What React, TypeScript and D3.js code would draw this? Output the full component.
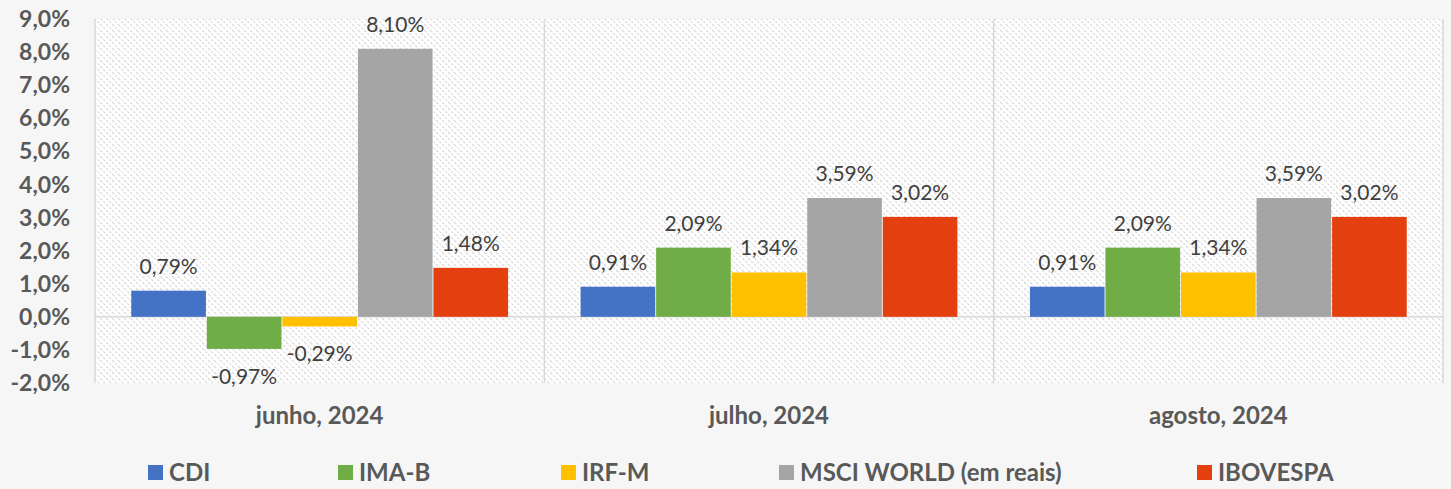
import * as d3 from 'd3'
import { useEffect, useRef, type ReactElement } from 'react'

const months = ['junho, 2024', 'julho, 2024', 'agosto, 2024']
const seriesNames = ['CDI', 'IMA-B', 'IRF-M', 'MSCI WORLD (em reais)', 'IBOVESPA']
const seriesColors = ['#4472c4', '#70ad47', '#ffc000', '#a5a5a5', '#e4400f']
const cdi = [0.79, 0.91, 0.91]
const imaB = [-0.97, 2.09, 2.09]
const irfM = [-0.29, 1.34, 1.34]
const msci = [8.1, 3.59, 3.59]
const ibovespa = [1.48, 3.02, 3.02]
const yTicks = [-2, -1, 0, 1, 2, 3, 4, 5, 6, 7, 8, 9]
const legendX = [148, 338, 561, 779, 1197]

const width = 1451
const height = 489
const margin = { top: 19, right: 8, bottom: 106, left: 95 }

const fmt = (v: number, digits: number) => v.toFixed(digits).replace('.', ',') + '%'

export default function App(): ReactElement {
  const svgRef = useRef<SVGSVGElement>(null)

  useEffect(() => {
    const svgEl = svgRef.current
    if (!svgEl) return
    const svg = d3.select(svgEl)
    svg.selectAll('*').remove()

    const values = [cdi, imaB, irfM, msci, ibovespa]
    const innerW = width - margin.left - margin.right
    const innerH = height - margin.top - margin.bottom

    const x0 = d3.scaleBand<string>().domain(months).range([0, innerW]).paddingInner(0).paddingOuter(0)
    const x1 = d3
      .scaleBand<string>()
      .domain(seriesNames)
      .range([0, x0.bandwidth()])
      .paddingInner(0.012)
      .paddingOuter(0.48)
    const y = d3.scaleLinear().domain([-2, 9]).range([innerH, 0])

    svg.append('rect').attr('width', width).attr('height', height).attr('fill', '#f6f6f6')

    const defs = svg.append('defs')
    const pat = defs
      .append('pattern')
      .attr('id', 'hatch')
      .attr('patternUnits', 'userSpaceOnUse')
      .attr('width', 6)
      .attr('height', 6)
    pat.append('rect').attr('width', 6).attr('height', 6).attr('fill', '#ffffff')
    pat
      .append('path')
      .attr('d', 'M0,0 L6,6 M-3,3 L0,6 M3,-3 L9,3')
      .attr('stroke', '#d6d6d6')
      .attr('stroke-width', 1.2)
      .attr('stroke-dasharray', '2,1.5')

    const root = svg.append('g').attr('transform', `translate(${margin.left},${margin.top})`)

    root.append('rect').attr('width', innerW).attr('height', innerH).attr('fill', 'url(#hatch)')

    // separators between categories + borders
    const seps = [0, ...months.map((m) => (x0(m) ?? 0) + x0.bandwidth())]
    root
      .selectAll('line.sep')
      .data(seps)
      .join('line')
      .attr('x1', (d) => d)
      .attr('x2', (d) => d)
      .attr('y1', 0)
      .attr('y2', innerH)
      .attr('stroke', '#d9d9d9')
      .attr('stroke-width', 1.5)

    root
      .append('line')
      .attr('x1', 0)
      .attr('x2', innerW)
      .attr('y1', y(0))
      .attr('y2', y(0))
      .attr('stroke', '#d9d9d9')
      .attr('stroke-width', 1.5)

    // y tick labels
    root
      .selectAll('text.ytick')
      .data(yTicks)
      .join('text')
      .attr('x', -25)
      .attr('y', (d) => y(d))
      .attr('dy', '0.35em')
      .attr('text-anchor', 'end')
      .attr('font-family', 'Lato, sans-serif')
      .attr('font-weight', 700)
      .attr('font-size', 23)
      .attr('fill', '#595959')
      .text((d) => fmt(d, 1))

    // bars
    seriesNames.forEach((name, si) => {
      const g = root.append('g')
      months.forEach((m, mi) => {
        const v = values[si][mi]
        const bx = (x0(m) ?? 0) + (x1(name) ?? 0)
        g.append('rect')
          .attr('x', bx)
          .attr('y', y(Math.max(0, v)))
          .attr('width', x1.bandwidth())
          .attr('height', Math.abs(y(v) - y(0)))
          .attr('fill', seriesColors[si])
        g.append('text')
          .attr('x', bx + x1.bandwidth() / 2)
          .attr('y', v >= 0 ? y(v) - 17 : y(v) + 35)
          .attr('text-anchor', 'middle')
          .attr('font-family', 'Lato, sans-serif')
          .attr('font-size', 21)
          .attr('fill', '#404040')
          .text(fmt(v, 2))
      })
    })

    // category labels
    root
      .selectAll('text.cat')
      .data(months)
      .join('text')
      .attr('x', (d) => (x0(d) ?? 0) + x0.bandwidth() / 2)
      .attr('y', innerH + 41)
      .attr('text-anchor', 'middle')
      .attr('font-family', 'Lato, sans-serif')
      .attr('font-weight', 700)
      .attr('font-size', 24)
      .attr('fill', '#595959')
      .text((d) => d)

    // legend
    const legend = svg.append('g')
    seriesNames.forEach((name, i) => {
      legend
        .append('rect')
        .attr('x', legendX[i])
        .attr('y', 465)
        .attr('width', 15)
        .attr('height', 15)
        .attr('fill', seriesColors[i])
      legend
        .append('text')
        .attr('x', legendX[i] + 21)
        .attr('y', 481)
        .attr('font-family', 'Lato, sans-serif')
        .attr('font-weight', 700)
        .attr('font-size', 24)
        .attr('fill', '#595959')
        .text(name)
    })
  }, [])

  return (
    <svg
      ref={svgRef}
      width={width}
      height={height}
      style={{ position: 'absolute', left: 0, top: 0, display: 'block' }}
    />
  )
}
